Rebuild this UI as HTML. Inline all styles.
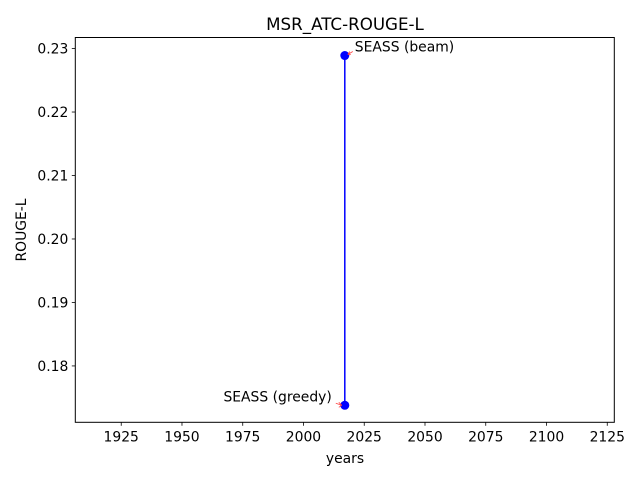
<!DOCTYPE html>
<html><head><meta charset="utf-8"><style>
html,body{margin:0;padding:0;background:#fff;}
svg{display:block;font-family:"DejaVu Sans","Liberation Sans",sans-serif;}
</style></head><body>
<svg id="chart" width="640" height="480" viewBox="0 0 640 480">
<rect width="640" height="480" fill="#fff"/>
<text x="345" y="30" font-size="16.7" text-anchor="middle">MSR_ATC-ROUGE-L</text>
<g id="axes"></g>
<g id="marks"></g>
<rect x="75.3" y="37.5" width="539" height="384.8" fill="none" stroke="#000" stroke-width="1"/>
<text x="345" y="463" font-size="13.9" text-anchor="middle">years</text>
<text transform="translate(26,230) rotate(-90)" font-size="13.9" text-anchor="middle">ROUGE-L</text>
</svg>
<script>
const years = [2017, 2017];
const scores = [0.2289, 0.1738];
const labels = ["SEASS (beam)", "SEASS (greedy)"];
const xTicks = [1925, 1950, 1975, 2000, 2025, 2050, 2075, 2100, 2125];
const yTicks = [0.18, 0.19, 0.20, 0.21, 0.22, 0.23];

const NS = "http://www.w3.org/2000/svg";
const L = 75.3, R = 614.3, T = 37.5, B = 422.3;
const xMin = 1906.1, xMax = 2127.9;
const yMin = 0.17112, yMax = 0.23174;
function xs(v){ return L + (v - xMin) / (xMax - xMin) * (R - L); }
function ys(v){ return B - (v - yMin) / (yMax - yMin) * (B - T); }
function mk(tag, attrs, parent){
  const e = document.createElementNS(NS, tag);
  for (const k in attrs) e.setAttribute(k, attrs[k]);
  parent.appendChild(e);
  return e;
}
const axes = document.getElementById('axes');
const marks = document.getElementById('marks');
xTicks.forEach(t => {
  const x = xs(t);
  const tk = mk('line', {x1:x, x2:x, y1:B, y2:B+3.5, stroke:'#000', 'stroke-width':0.8}, axes);
  
  
  const lb = mk('text', {x:x, y:B+19, 'font-size':13.9, 'text-anchor':'middle'}, axes);
  lb.textContent = String(t);
  
  
});
yTicks.forEach(t => {
  const y = ys(t);
  const tk = mk('line', {x1:L-3.5, x2:L, y1:y, y2:y, stroke:'#000', 'stroke-width':0.8}, axes);
  
  
  const lb = mk('text', {x:L-7, y:y+5, 'font-size':13.9, 'text-anchor':'end'}, axes);
  lb.textContent = t.toFixed(2);
  
  
});
const pts = years.map((v,i) => xs(v) + ',' + ys(scores[i])).join(' ');
const line = mk('polyline', {points:pts, fill:'none', stroke:'#0000ff', 'stroke-width':1.5}, marks);


years.forEach((v,i) => {
  const cx = xs(v), cy = ys(scores[i]);
  const c = mk('circle', {cx:cx, cy:cy, r:4.5, fill:'#0000ff'}, marks);
  
  
  const above = i === 0;
  const ar = mk('path', {d: above ? `M${cx+3},${cy-1} L${cx+8},${cy-4} M${cx+3},${cy-1} l3,0 M${cx+3},${cy-1} l2,-3`
                                : `M${cx-3},${cy} L${cx-9},${cy-2} M${cx-3},${cy} l-3,-3 M${cx-3},${cy} l-3,2`,
                         stroke:'#ff4444', 'stroke-width':0.8, fill:'none'}, marks);
  
  
  const t = mk('text', {x: above ? cx + 10 : cx - 13, y: above ? cy - 4 : cy - 4, 'font-size':13.9, 'text-anchor': above ? 'start' : 'end'}, marks);
  t.textContent = labels[i];
  
  
});
</script>
</body></html>
